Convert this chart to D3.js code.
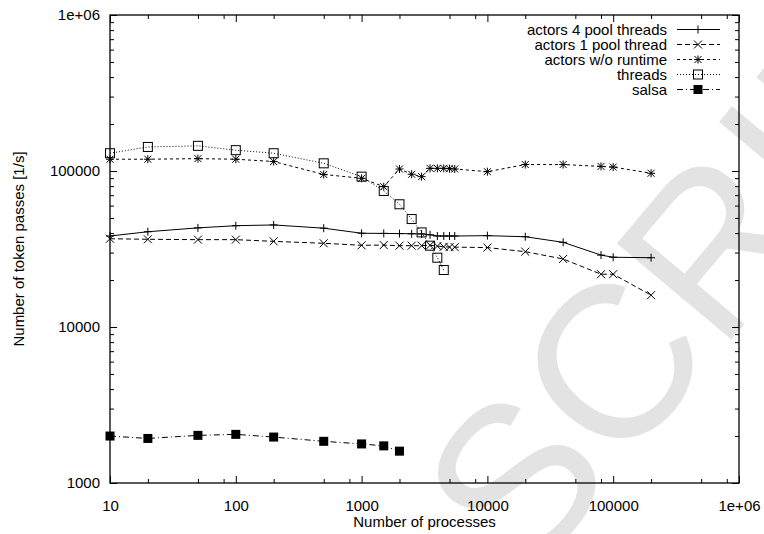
<!DOCTYPE html>
<html>
<head>
<meta charset="utf-8">
<script src="https://cdn.jsdelivr.net/npm/d3@7"></script>
<style>
	body { margin: 0; background: #fff; }
	svg text { font-family: 'Liberation Sans', Arial, Helvetica, sans-serif; }
</style>
</head>
<body>
<svg id="chart" width="764" height="534"></svg>
<script>
'use strict';

// processes (x) for each series
const xsActors = [10, 20, 50, 100, 200, 500, 1000, 1500, 2000, 2500, 3000, 3500, 4000, 4500, 5000, 5500, 10000, 20000, 40000, 80000, 100000, 200000];
const xsThreads = [10, 20, 50, 100, 200, 500, 1000, 1500, 2000, 2500, 3000, 3500, 4000, 4500];
const xsSalsa = [10, 20, 50, 100, 200, 500, 1000, 1500, 2000];

// token passes per second
const actors4Pool = [38300, 40800, 43200, 44600, 45100, 43000, 39900, 39800, 39700, 39600, 39500, 39000, 38300, 38300, 38300, 38300, 38500, 37900, 34900, 28900, 28000, 27800];
const actors1Pool = [36800, 36500, 36300, 36300, 35400, 34400, 33400, 33500, 33200, 33200, 33200, 33400, 33000, 32700, 32500, 32500, 32300, 30400, 27300, 21800, 21800, 16000];
const actorsNoRuntime = [119000, 119000, 120000, 119000, 115000, 95000, 89800, 79400, 103000, 95300, 92000, 104000, 104000, 104000, 103500, 103000, 99000, 110000, 110000, 107000, 106000, 96700];
const threads = [130000, 142600, 145000, 136000, 130000, 112000, 92000, 74500, 61200, 49200, 40400, 33200, 27800, 23200];
const salsa = [2000, 1930, 2020, 2050, 1970, 1850, 1780, 1730, 1600];

const seriesNames = ['actors 4 pool threads', 'actors 1 pool thread', 'actors w/o runtime', 'threads', 'salsa'];

const xMajor = [10, 100, 1000, 10000, 100000, 1000000];
const yMajor = [1000, 10000, 100000, 1000000];
const tickLabel = d => d >= 1000000 ? '1e+06' : String(d);

const series = [
	{ name: seriesNames[0], xs: xsActors, ys: actors4Pool, dash: null, marker: 'plus' },
	{ name: seriesNames[1], xs: xsActors, ys: actors1Pool, dash: '5,3', marker: 'cross' },
	{ name: seriesNames[2], xs: xsActors, ys: actorsNoRuntime, dash: '3,3', marker: 'star' },
	{ name: seriesNames[3], xs: xsThreads, ys: threads, dash: '1,2', marker: 'box' },
	{ name: seriesNames[4], xs: xsSalsa, ys: salsa, dash: '6,3,1,3', marker: 'fbox' }
];

const margin = { top: 15, right: 25, bottom: 51, left: 110 },
	width = 764 - margin.left - margin.right,
	height = 534 - margin.top - margin.bottom;

const svg = d3.select('#chart');

// watermark behind everything
svg.append('text')
	.attr('transform', 'translate(526,584) rotate(-50)')
	.attr('font-size', 217)
	.attr('fill', '#e3e3e3')
	.text('SCRIPT');

const g = svg.append('g')
	.attr('transform', `translate(${margin.left},${margin.top})`);

const x = d3.scaleLog().domain([10, 1e6]).range([0, width]);
const y = d3.scaleLog().domain([1000, 1e6]).range([height, 0]);

const xMinor = [];
for (let d = 10; d < 1e6; d *= 10) [2, 5, 8].forEach(k => xMinor.push(d * k));
const yMinor = [];
for (let d = 1000; d < 1e6; d *= 10) d3.range(2, 10).forEach(k => yMinor.push(d * k));

const styleAxis = sel => {
	sel.select('.domain').remove();
	sel.selectAll('line').attr('stroke', '#000').attr('stroke-width', 1);
	sel.selectAll('text').attr('font-size', 15).attr('fill', '#000');
};

// major ticks, inward, mirrored
g.append('g').attr('transform', `translate(0,${height})`)
	.call(d3.axisBottom(x).tickValues(xMajor).tickSize(-7).tickPadding(17).tickFormat(tickLabel))
	.call(styleAxis);
g.append('g')
	.call(d3.axisTop(x).tickValues(xMajor).tickSize(-7).tickFormat(''))
	.call(styleAxis);
g.append('g')
	.call(d3.axisLeft(y).tickValues(yMajor).tickSize(-7).tickPadding(10).tickFormat(tickLabel))
	.call(styleAxis);
g.append('g').attr('transform', `translate(${width},0)`)
	.call(d3.axisRight(y).tickValues(yMajor).tickSize(-7).tickFormat(''))
	.call(styleAxis);

// minor ticks
g.append('g').attr('transform', `translate(0,${height})`)
	.call(d3.axisBottom(x).tickValues(xMinor).tickSize(-4).tickFormat(''))
	.call(styleAxis);
g.append('g')
	.call(d3.axisTop(x).tickValues(xMinor).tickSize(-4).tickFormat(''))
	.call(styleAxis);
g.append('g')
	.call(d3.axisLeft(y).tickValues(yMinor).tickSize(-4).tickFormat(''))
	.call(styleAxis);
g.append('g').attr('transform', `translate(${width},0)`)
	.call(d3.axisRight(y).tickValues(yMinor).tickSize(-4).tickFormat(''))
	.call(styleAxis);

g.append('rect')
	.attr('width', width).attr('height', height)
	.attr('fill', 'none').attr('stroke', '#000').attr('stroke-width', 1.3);

// axis titles
g.append('text')
	.attr('x', width / 2).attr('y', height + 38)
	.attr('text-anchor', 'middle').attr('dominant-baseline', 'central')
	.attr('font-size', 15)
	.text('Number of processes');
g.append('text')
	.attr('transform', `translate(${18 - margin.left},${height / 2}) rotate(-90)`)
	.attr('text-anchor', 'middle').attr('dominant-baseline', 'central')
	.attr('font-size', 15)
	.text('Number of token passes [1/s]');

const markerPath = {
	plus: 'M-4,0H4M0,-4V4',
	cross: 'M-4,-4L4,4M-4,4L4,-4',
	star: 'M-4,0H4M0,-4V4M-3.5,-3.5L3.5,3.5M-3.5,3.5L3.5,-3.5'
};
const drawMarker = (sel, type) => {
	if (type === 'box') {
		sel.append('rect').attr('x', -4.5).attr('y', -4.5).attr('width', 9).attr('height', 9)
			.attr('fill', 'none').attr('stroke', '#000').attr('stroke-width', 1);
	} else if (type === 'fbox') {
		sel.append('rect').attr('x', -4.5).attr('y', -4.5).attr('width', 9).attr('height', 9)
			.attr('fill', '#000');
	} else {
		sel.append('path').attr('d', markerPath[type])
			.attr('fill', 'none').attr('stroke', '#000').attr('stroke-width', 1);
	}
};

const line = d3.line().x(d => x(d[0])).y(d => y(d[1]));

series.forEach(s => {
	const pts = s.xs.map((v, i) => [v, s.ys[i]]);
	g.append('path')
		.datum(pts)
		.attr('d', line)
		.attr('fill', 'none')
		.attr('stroke', '#000')
		.attr('stroke-width', 1)
		.attr('stroke-dasharray', s.dash);
	g.selectAll(null).data(pts).enter().append('g')
		.attr('transform', d => `translate(${x(d[0])},${y(d[1])})`)
		.each(function () { drawMarker(d3.select(this), s.marker); });
});

// key, top right
const key = g.append('g');
series.forEach((s, i) => {
	const ky = 14.5 + i * 15;
	key.append('text')
		.attr('x', 557).attr('y', ky)
		.attr('text-anchor', 'end').attr('dominant-baseline', 'central')
		.attr('font-size', 15)
		.text(s.name);
	key.append('line')
		.attr('x1', 567).attr('x2', 610).attr('y1', ky).attr('y2', ky)
		.attr('stroke', '#000').attr('stroke-width', 1)
		.attr('stroke-dasharray', s.dash);
	const m = key.append('g').attr('transform', `translate(588,${ky})`);
	drawMarker(m, s.marker);
});
</script>
</body>
</html>
